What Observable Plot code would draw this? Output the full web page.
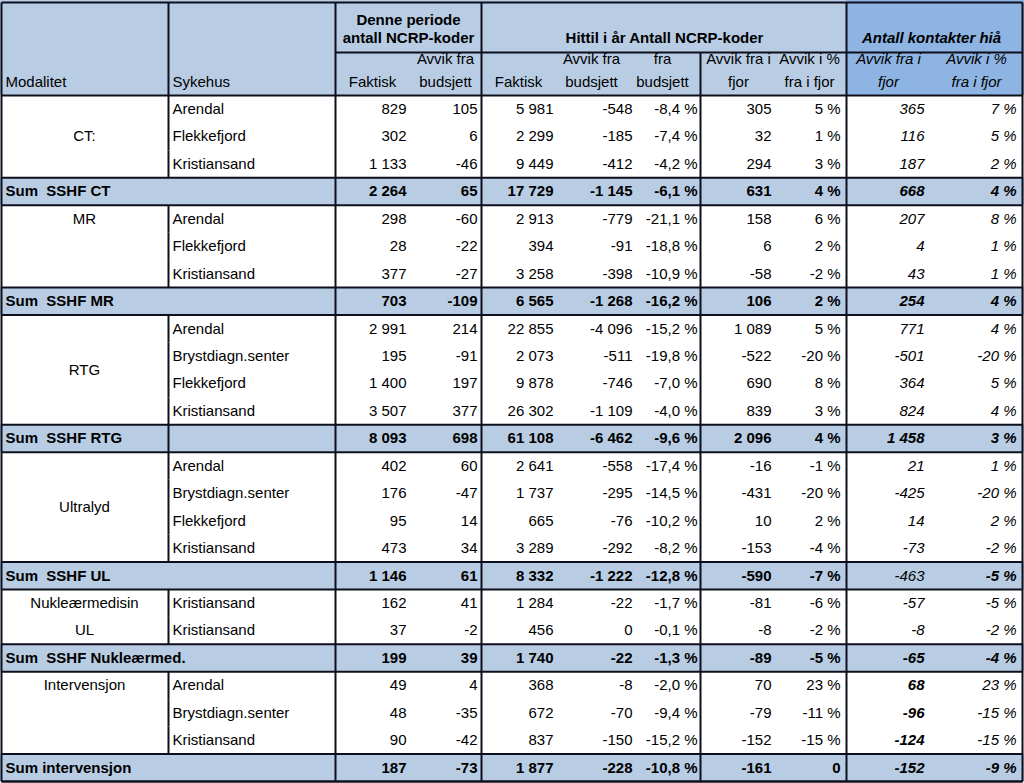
<!DOCTYPE html>
<html><head><meta charset="utf-8">
<script src="https://cdn.jsdelivr.net/npm/d3@7"></script>
<script src="https://cdn.jsdelivr.net/npm/@observablehq/plot@0.6"></script>
<style>body{margin:0;background:#fff} svg{display:block}</style>
</head><body><div id="chart"></div>
<script>
// ---- data ----
const rowLabels = ["Arendal","Flekkefjord","Kristiansand","Sum\u00a0 SSHF CT",
  "Arendal","Flekkefjord","Kristiansand","Sum\u00a0 SSHF MR",
  "Arendal","Brystdiagn.senter","Flekkefjord","Kristiansand","Sum\u00a0 SSHF RTG",
  "Arendal","Brystdiagn.senter","Flekkefjord","Kristiansand","Sum\u00a0 SSHF UL",
  "Kristiansand","Kristiansand","Sum\u00a0 SSHF Nukleærmed.",
  "Arendal","Brystdiagn.senter","Kristiansand","Sum intervensjon"];
const modalities = ["CT:","MR","RTG","Ultralyd","Nukleærmedisin","UL","Intervensjon"];
const modalityRow = [1, 4, 9.5, 14.5, 18, 19, 21];
const faktisk = [829,302,1133,2264,298,28,377,703,2991,195,1400,3507,8093,402,176,95,473,1146,162,37,199,49,48,90,187];
const avvikBudsjett = [105,6,-46,65,-60,-22,-27,-109,214,-91,197,377,698,60,-47,14,34,61,41,-2,39,4,-35,-42,-73];
const hittilFaktisk = [5981,2299,9449,17729,2913,394,3258,6565,22855,2073,9878,26302,61108,2641,1737,665,3289,8332,1284,456,1740,368,672,837,1877];
const hittilAvvik = [-548,-185,-412,-1145,-779,-91,-398,-1268,-4096,-511,-746,-1109,-6462,-558,-295,-76,-292,-1222,-22,0,-22,-8,-70,-150,-228];
const hittilAvvikPct = [-8.4,-7.4,-4.2,-6.1,-21.1,-18.8,-10.9,-16.2,-15.2,-19.8,-7.0,-4.0,-9.6,-17.4,-14.5,-10.2,-8.2,-12.8,-1.7,-0.1,-1.3,-2.0,-9.4,-15.2,-10.8];
const avvikFjor = [305,32,294,631,158,6,-58,106,1089,-522,690,839,2096,-16,-431,10,-153,-590,-81,-8,-89,70,-79,-152,-161];
const avvikFjorPct = [5,1,3,4,6,2,-2,2,5,-20,8,3,4,-1,-20,2,-4,-7,-6,-2,-5,23,-11,-15,0];
const kontakterAvvik = [365,116,187,668,207,4,43,254,771,-501,364,824,1458,21,-425,14,-73,-463,-57,-8,-65,68,-96,-124,-152];
const kontakterAvvikPct = [7,5,2,4,8,1,1,4,4,-20,5,4,3,1,-20,2,-2,-5,-5,-2,-4,23,-15,-15,-9];
const boldKontakter = [21,22,23]; // rows where kontakter value is bold
const plainSumKontakter = [17];   // sum row where kontakter value is not bold

// ---- layout ----
const W = 1024, H = 783;
const headTop = 2, headMid = 52, headBottom = 95, bodyBottom = 781;
const rowH = (bodyBottom - headBottom) / rowLabels.length;
const vLines = {left: 1, mod: 168, syk: 335, denne: 481, hittil: 700, kont: 846, right: 1022};
const numRight = [406, 477, 553, 632, 697, 771, 840, 924, 1016];
const colCenter = [372, 445, 518, 591, 662, 738, 809, 888, 976];
const lightBlue = "#b8cce4", midBlue = "#8db4e2", ink = "#0e0f1c";
const font = "Arial, 'Liberation Sans', sans-serif";
const bodySize = 15, headSize = 15;

const rowTop = i => headBottom + i * rowH;
const rowMid = i => headBottom + (i + 0.5) * rowH;
const isSum = rowLabels.map(l => l.startsWith("Sum"));

const loc = d3.formatLocale({decimal: ",", thousands: " ", grouping: [3], currency: ["", ""], minus: "-"});
const fInt = loc.format(",d");
const fPct1 = v => loc.format(".1f")(v) + " %";
const fPct0 = v => v === 0 ? "0" : loc.format("d")(v) + " %";

const columns = [
  [faktisk, fInt], [avvikBudsjett, fInt], [hittilFaktisk, fInt], [hittilAvvik, fInt],
  [hittilAvvikPct, fPct1], [avvikFjor, fInt], [avvikFjorPct, fPct0],
  [kontakterAvvik, fInt], [kontakterAvvikPct, fPct0]
];

const cells = [];
rowLabels.forEach((lab, i) => {
  columns.forEach(([arr, fmt], j) => {
    const italic = j >= 7;
    let bold = isSum[i];
    if (j === 7 && boldKontakter.includes(i)) bold = true;
    if (j === 7 && plainSumKontakter.includes(i)) bold = false;
    cells.push({x: numRight[j], y: rowMid(i), text: fmt(arr[i]), bold, italic});
  });
});

const labelCells = rowLabels.map((lab, i) => ({x: isSum[i] ? 5 : vLines.mod + 4, y: rowMid(i), text: lab, bold: isSum[i]}));
const modCells = modalities.map((m, k) => ({x: vLines.mod / 2, y: rowMid(modalityRow[k]), text: m}));

// header texts
const hy1 = 59, hy2 = 82;
const header = [
  {text: "Modalitet", x: 5, y: hy2, anchor: "start"},
  {text: "Sykehus", x: vLines.mod + 4, y: hy2, anchor: "start"},
  {text: "Denne periode", x: 408, y: 20, bold: true, big: true},
  {text: "antall NCRP-koder", x: 408, y: 38, bold: true, big: true},
  {text: "Hittil i år Antall NCRP-koder", x: 664, y: 38, bold: true, big: true},
  {text: "Antall kontakter hiå", x: 931, y: 38, bold: true, italic: true, big: true},
  {text: "Faktisk", x: colCenter[0], y: hy2},
  {text: "Avvik fra", x: colCenter[1], y: hy1}, {text: "budsjett", x: colCenter[1], y: hy2},
  {text: "Faktisk", x: colCenter[2], y: hy2},
  {text: "Avvik fra", x: colCenter[3], y: hy1}, {text: "budsjett", x: colCenter[3], y: hy2},
  {text: "fra", x: colCenter[4], y: hy1}, {text: "budsjett", x: colCenter[4], y: hy2},
  {text: "Avvik fra i", x: colCenter[5], y: hy1}, {text: "fjor", x: colCenter[5], y: hy2},
  {text: "Avvik i %", x: colCenter[6], y: hy1}, {text: "fra i fjor", x: colCenter[6], y: hy2},
  {text: "Avvik fra i", x: colCenter[7], y: hy1, italic: true}, {text: "fjor", x: colCenter[7], y: hy2, italic: true},
  {text: "Avvik i %", x: colCenter[8], y: hy1, italic: true}, {text: "fra i fjor", x: colCenter[8], y: hy2, italic: true}
];

// fills
const fills = [
  {x1: 0, x2: vLines.kont, y1: 0, y2: headBottom, fill: lightBlue},
  {x1: vLines.kont, x2: W, y1: 0, y2: headBottom, fill: midBlue}
];
rowLabels.forEach((l, i) => { if (isSum[i]) fills.push({x1: 0, x2: W, y1: rowTop(i), y2: rowTop(i + 1), fill: lightBlue}); });

// lines
const segs = [];
const hseg = (y, x1 = vLines.left, x2 = vLines.right) => segs.push({x1, x2, y1: y, y2: y});
const vseg = (x, y1, y2) => segs.push({x1: x, x2: x, y1, y2});
hseg(headTop); hseg(headMid, vLines.syk); hseg(headBottom); hseg(bodyBottom);
rowLabels.forEach((l, i) => { if (isSum[i]) { hseg(rowTop(i)); hseg(rowTop(i + 1)); } });
[vLines.left, vLines.syk, vLines.denne, vLines.kont, vLines.right].forEach(x => vseg(x, headTop, bodyBottom));
vseg(vLines.mod, headTop, headBottom);
vseg(vLines.hittil, headMid, bodyBottom);
rowLabels.forEach((l, i) => { if (!isSum[i] || l.includes("RTG")) vseg(vLines.mod, rowTop(i), rowTop(i + 1)); });

const textMarks = (data, anchorDefault, size = bodySize) => {
  const combos = [[false,false],[true,false],[false,true],[true,true]];
  return combos.map(([b, it]) => Plot.text(data.filter(d => !!d.bold === b && !!d.italic === it), {
    x: "x", y: "y", text: "text",
    textAnchor: anchorDefault,
    fontWeight: b ? "bold" : "normal",
    fontStyle: it ? "italic" : "normal",
    fill: "#000", fontSize: size, fontFamily: font
  }));
};

const chart = Plot.plot({
  width: W, height: H, margin: 0,
  x: {domain: [0, W], range: [0, W], axis: null},
  y: {domain: [0, H], range: [0, H], axis: null},
  style: {background: "#fff", fontFamily: font},
  marks: [
    Plot.rect(fills, {x1: "x1", x2: "x2", y1: "y1", y2: "y2", fill: d => d.fill}),
    Plot.link(segs, {x1: "x1", x2: "x2", y1: "y1", y2: "y2", stroke: ink, strokeWidth: 2}),
    ...textMarks(cells, "end"),
    ...textMarks(labelCells, "start"),
    ...textMarks(modCells, "middle"),
    ...textMarks(header.filter(d => d.anchor === "start"), "start"),
    ...textMarks(header.filter(d => d.anchor !== "start" && !d.big), "middle"),
    ...textMarks(header.filter(d => d.big), "middle", headSize)
  ]
});
document.getElementById("chart").append(chart);
</script>
</body></html>
